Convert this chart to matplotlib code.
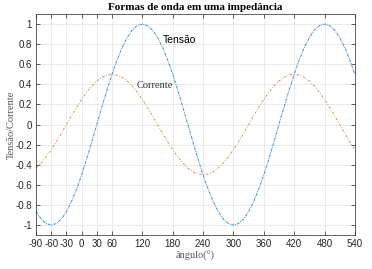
import numpy as np
import matplotlib
matplotlib.use('Agg')
import matplotlib.pyplot as plt

angulo = np.arange(-90, 541, 10)

tensao = [-0.866, -0.940, -0.985, -1.0, -0.985, -0.940, -0.866, -0.766, -0.643, -0.5,
          -0.342, -0.174, 0.0, 0.174, 0.342, 0.5, 0.643, 0.766, 0.866, 0.940,
          0.985, 1.0, 0.985, 0.940, 0.866, 0.766, 0.643, 0.5, 0.342, 0.174,
          0.0, -0.174, -0.342, -0.5, -0.643, -0.766, -0.866, -0.940, -0.985, -1.0,
          -0.985, -0.940, -0.866, -0.766, -0.643, -0.5, -0.342, -0.174, 0.0, 0.174,
          0.342, 0.5, 0.643, 0.766, 0.866, 0.940, 0.985, 1.0, 0.985, 0.940,
          0.866, 0.766, 0.643, 0.5]

corrente = [-0.433, -0.383, -0.321, -0.25, -0.171, -0.087, 0.0, 0.087, 0.171, 0.25,
            0.321, 0.383, 0.433, 0.470, 0.492, 0.5, 0.492, 0.470, 0.433, 0.383,
            0.321, 0.25, 0.171, 0.087, 0.0, -0.087, -0.171, -0.25, -0.321, -0.383,
            -0.433, -0.470, -0.492, -0.5, -0.492, -0.470, -0.433, -0.383, -0.321, -0.25,
            -0.171, -0.087, 0.0, 0.087, 0.171, 0.25, 0.321, 0.383, 0.433, 0.470,
            0.492, 0.5, 0.492, 0.470, 0.433, 0.383, 0.321, 0.25, 0.171, 0.087,
            0.0, -0.087, -0.171, -0.25]

xticks = [-90, -60, -30, 0, 30, 60, 120, 180, 240, 300, 360, 420, 480, 540]
yticks = [-1, -0.8, -0.6, -0.4, -0.2, 0, 0.2, 0.4, 0.6, 0.8, 1]
ytick_labels = ['-1', '-0.8', '-0.6', '-0.4', '-0.2', '0', '0.2', '0.4', '0.6', '0.8', '1']

fig = plt.figure(figsize=(3.72, 2.69), dpi=100)
ax = fig.add_axes([0.097, 0.126, 0.857, 0.822])

ax.plot(angulo, tensao, color='#3a8fd0', lw=0.7, ls=(0, (3, 1, 1, 1)))
ax.plot(angulo, corrente, color='#e07a50', lw=0.6, ls=(0, (3, 2, 1, 2)))

ax.set_xlim(-90, 540)
ax.set_ylim(-1.1, 1.1)
ax.set_xticks(xticks)
ax.set_xticklabels([str(t) for t in xticks])
ax.set_yticks(yticks)
ax.set_yticklabels(ytick_labels)
ax.grid(True, color='#e6e6e6', lw=0.6)
ax.set_axisbelow(True)
ax.tick_params(direction='in', top=True, right=True, length=3, width=0.5,
               colors='#262626', labelsize=7, pad=3)
for lab in ax.get_xticklabels() + ax.get_yticklabels():
    lab.set_family('Liberation Sans')
for s in ax.spines.values():
    s.set_color('#262626')
    s.set_linewidth(0.5)

ax.set_title('Formas de onda em uma impedância', family='Liberation Serif',
             fontweight='bold', fontsize=8, pad=3)
ax.set_xlabel('ângulo(°)', family='Liberation Serif', fontsize=7.5, color='#555555', labelpad=1)
ax.set_ylabel('Tensão/Corrente', family='Liberation Serif', fontsize=7.5, color='#555555')
ax.yaxis.set_label_coords(-0.063, 0.5)

ax.text(161, 0.84, 'Tensão', family='Liberation Sans', fontsize=7.5, va='center')
ax.text(109, 0.39, 'Corrente', family='Liberation Serif', fontsize=7.5, va='center', color='#333333')

fig.savefig('out.png', dpi=100)
